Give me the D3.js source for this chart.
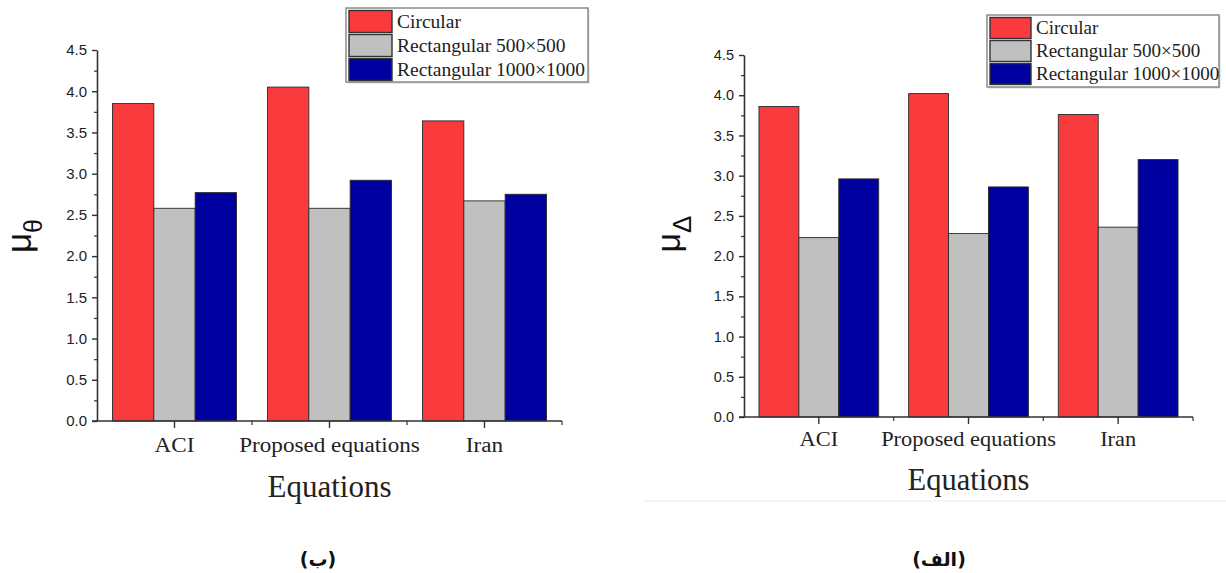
<!DOCTYPE html>
<html><head><meta charset="utf-8">
<script src="https://cdn.jsdelivr.net/npm/d3@7/dist/d3.min.js"></script>
<style>body{margin:0;background:#fff}svg{display:block}</style>
</head><body>
<svg id="chart" width="1226" height="573"></svg>
<script>
// ---------- data ----------
const categories = ["ACI", "Proposed equations", "Iran"];
const seriesNames = ["Circular", "Rectangular 500×500", "Rectangular 1000×1000"];
// panel (ب) : mu_theta
const thetaCircular = [3.85, 4.05, 3.64];
const thetaRect500  = [2.58, 2.58, 2.67];
const thetaRect1000 = [2.77, 2.92, 2.75];
// panel (الف) : mu_Delta
const deltaCircular = [3.86, 4.02, 3.76];
const deltaRect500  = [2.23, 2.28, 2.36];
const deltaRect1000 = [2.96, 2.86, 3.20];
const yTickValues = [0, 0.5, 1, 1.5, 2, 2.5, 3, 3.5, 4, 4.5];
const yMax = 4.5;
const xTitle = "Equations";
const colors = ["#F93B3E", "#C0C0C0", "#0000A0"];

// ---------- layout ----------
const panels = [
  { series: [thetaCircular, thetaRect500, thetaRect1000], sub: "θ", caption: "(ب)",
    x0: 97, x1: 562, yTop: 50, yBot: 421,
    tickFont: 15, catFont: 20.5, catStretch: 1.13, catY: 452, titleFont: 31, titleY: 497,
    ylab: { x: 31, y: 236, fs: 35, subFs: 25, shift: 11 },
    legend: { x: 346, y: 8, w: 242, h: 74, sw: 43, sh: 22, pitch: 24, fs: 19.5 },
    capX: 318 },
  { series: [deltaCircular, deltaRect500, deltaRect1000], sub: "Δ", caption: "(الف)",
    x0: 744, x1: 1193, yTop: 55, yBot: 417,
    tickFont: 14.5, catFont: 20, catStretch: 1.12, catY: 446, titleFont: 30.5, titleY: 490,
    ylab: { x: 680, y: 234, fs: 34, subFs: 26, shift: 11 },
    legend: { x: 987, y: 15, w: 232, h: 72, sw: 41, sh: 21, pitch: 23, fs: 19 },
    capX: 939 }
];

const svg = d3.select("#chart");
svg.append("rect").attr("width", 1226).attr("height", 573).attr("fill", "#fff");
// faint separator line in the right panel
svg.append("line").attr("x1", 643).attr("x2", 1226).attr("y1", 501).attr("y2", 501)
  .attr("stroke", "#ececec").attr("stroke-width", 1.2);

panels.forEach(p => {
  const g = svg.append("g");
  const x = d3.scaleBand().domain(categories).range([p.x0, p.x1]).padding(0);
  const bw = x.bandwidth();
  const xs = d3.scaleBand().domain(seriesNames).range([bw * 0.1, bw * 0.9]).padding(0);
  const y = d3.scaleLinear().domain([0, yMax]).range([p.yBot, p.yTop]);

  // bars
  p.series.forEach((vals, si) => {
    g.selectAll(null).data(vals).enter().append("rect")
      .attr("x", (d, i) => x(categories[i]) + xs(seriesNames[si]))
      .attr("width", xs.bandwidth())
      .attr("y", d => y(d))
      .attr("height", d => y(0) - y(d))
      .attr("fill", colors[si])
      .attr("stroke", "#2a2a2a").attr("stroke-width", 0.9);
  });

  // y axis
  const ya = d3.axisLeft(y).tickValues(yTickValues).tickFormat(d3.format(".1f"))
    .tickSizeInner(5).tickSizeOuter(0).tickPadding(5);
  const yg = g.append("g").attr("transform", `translate(${p.x0},0)`).call(ya);
  yg.select(".domain").attr("stroke", "#333").attr("stroke-width", 1.6);
  yg.selectAll(".tick line").attr("stroke", "#333").attr("stroke-width", 1.4);
  yg.selectAll(".tick text").attr("font-family", "Liberation Sans, Arial, sans-serif")
    .attr("font-size", p.tickFont).attr("fill", "#222");
  const yMinor = d3.axisLeft(y).tickValues(d3.range(0.25, yMax, 0.5)).tickFormat("")
    .tickSizeInner(3).tickSizeOuter(0);
  const ym = g.append("g").attr("transform", `translate(${p.x0},0)`).call(yMinor);
  ym.select(".domain").remove();
  ym.selectAll(".tick line").attr("stroke", "#333").attr("stroke-width", 1.2);

  // x axis
  const xa = d3.axisBottom(x).tickSizeInner(7).tickSizeOuter(0).tickPadding(8);
  const xg = g.append("g").attr("transform", `translate(0,${p.yBot})`).call(xa);
  xg.select(".domain").attr("stroke", "#333").attr("stroke-width", 1.6)
    .attr("d", `M${p.x0 - 5},0H${p.x1}`);
  xg.selectAll(".tick line").attr("stroke", "#333").attr("stroke-width", 1.4);
  xg.selectAll(".tick text").remove();
  // minor ticks at band boundaries
  g.selectAll(null).data(categories.slice(1).concat(["__end"])).enter().append("line")
    .attr("x1", (d, i) => i < categories.length - 1 ? x(d) : p.x1)
    .attr("x2", (d, i) => i < categories.length - 1 ? x(d) : p.x1)
    .attr("y1", p.yBot).attr("y2", p.yBot + 4)
    .attr("stroke", "#333").attr("stroke-width", 1.2);
  // category labels (slightly wide serif as in the reference)
  g.selectAll(null).data(categories).enter().append("text")
    .attr("transform", d => `translate(${x(d) + bw / 2},${p.catY}) scale(${p.catStretch},1)`)
    .attr("text-anchor", "middle")
    .attr("font-family", "Liberation Serif, Times New Roman, serif")
    .attr("font-size", p.catFont).attr("fill", "#222").text(d => d);
  // x title
  g.append("text").attr("x", (p.x0 + p.x1) / 2).attr("y", p.titleY)
    .attr("text-anchor", "middle")
    .attr("font-family", "Liberation Serif, Times New Roman, serif")
    .attr("font-size", p.titleFont).attr("fill", "#222").text(xTitle);

  // y label  mu_sub
  const yl = g.append("text")
    .attr("transform", `translate(${p.ylab.x},${p.ylab.y}) rotate(-90)`)
    .attr("text-anchor", "middle")
    .attr("font-family", "Liberation Sans, Arial, sans-serif")
    .attr("fill", "#111");
  yl.append("tspan").attr("font-size", p.ylab.fs).text("μ");
  yl.append("tspan").attr("font-size", p.ylab.subFs).attr("dy", p.ylab.shift).text(p.sub);

  // legend
  const L = p.legend;
  const lg = g.append("g").attr("transform", `translate(${L.x},${L.y})`);
  lg.append("rect").attr("x", 1.5).attr("y", 1.5).attr("width", L.w).attr("height", L.h)
    .attr("fill", "#d8d8d8");
  lg.append("rect").attr("width", L.w).attr("height", L.h)
    .attr("fill", "#fff").attr("stroke", "#7a7a7a").attr("stroke-width", 1.3);
  seriesNames.forEach((s, i) => {
    lg.append("rect").attr("x", 3).attr("y", 2.5 + i * L.pitch)
      .attr("width", L.sw).attr("height", L.sh)
      .attr("fill", colors[i]).attr("stroke", "#333").attr("stroke-width", 1.4);
    lg.append("text").attr("x", 3 + L.sw + 5).attr("y", 2.5 + i * L.pitch + L.sh * 0.8)
      .attr("font-family", "Liberation Serif, Times New Roman, serif")
      .attr("font-size", L.fs).attr("fill", "#222").text(s);
  });

  // caption
  svg.append("text").attr("x", p.capX).attr("y", 566)
    .attr("text-anchor", "middle").attr("direction", "rtl")
    .attr("font-family", "DejaVu Sans, sans-serif").attr("font-weight", "bold")
    .attr("font-size", 19).attr("fill", "#111").text(p.caption);
});
</script>
</body></html>
